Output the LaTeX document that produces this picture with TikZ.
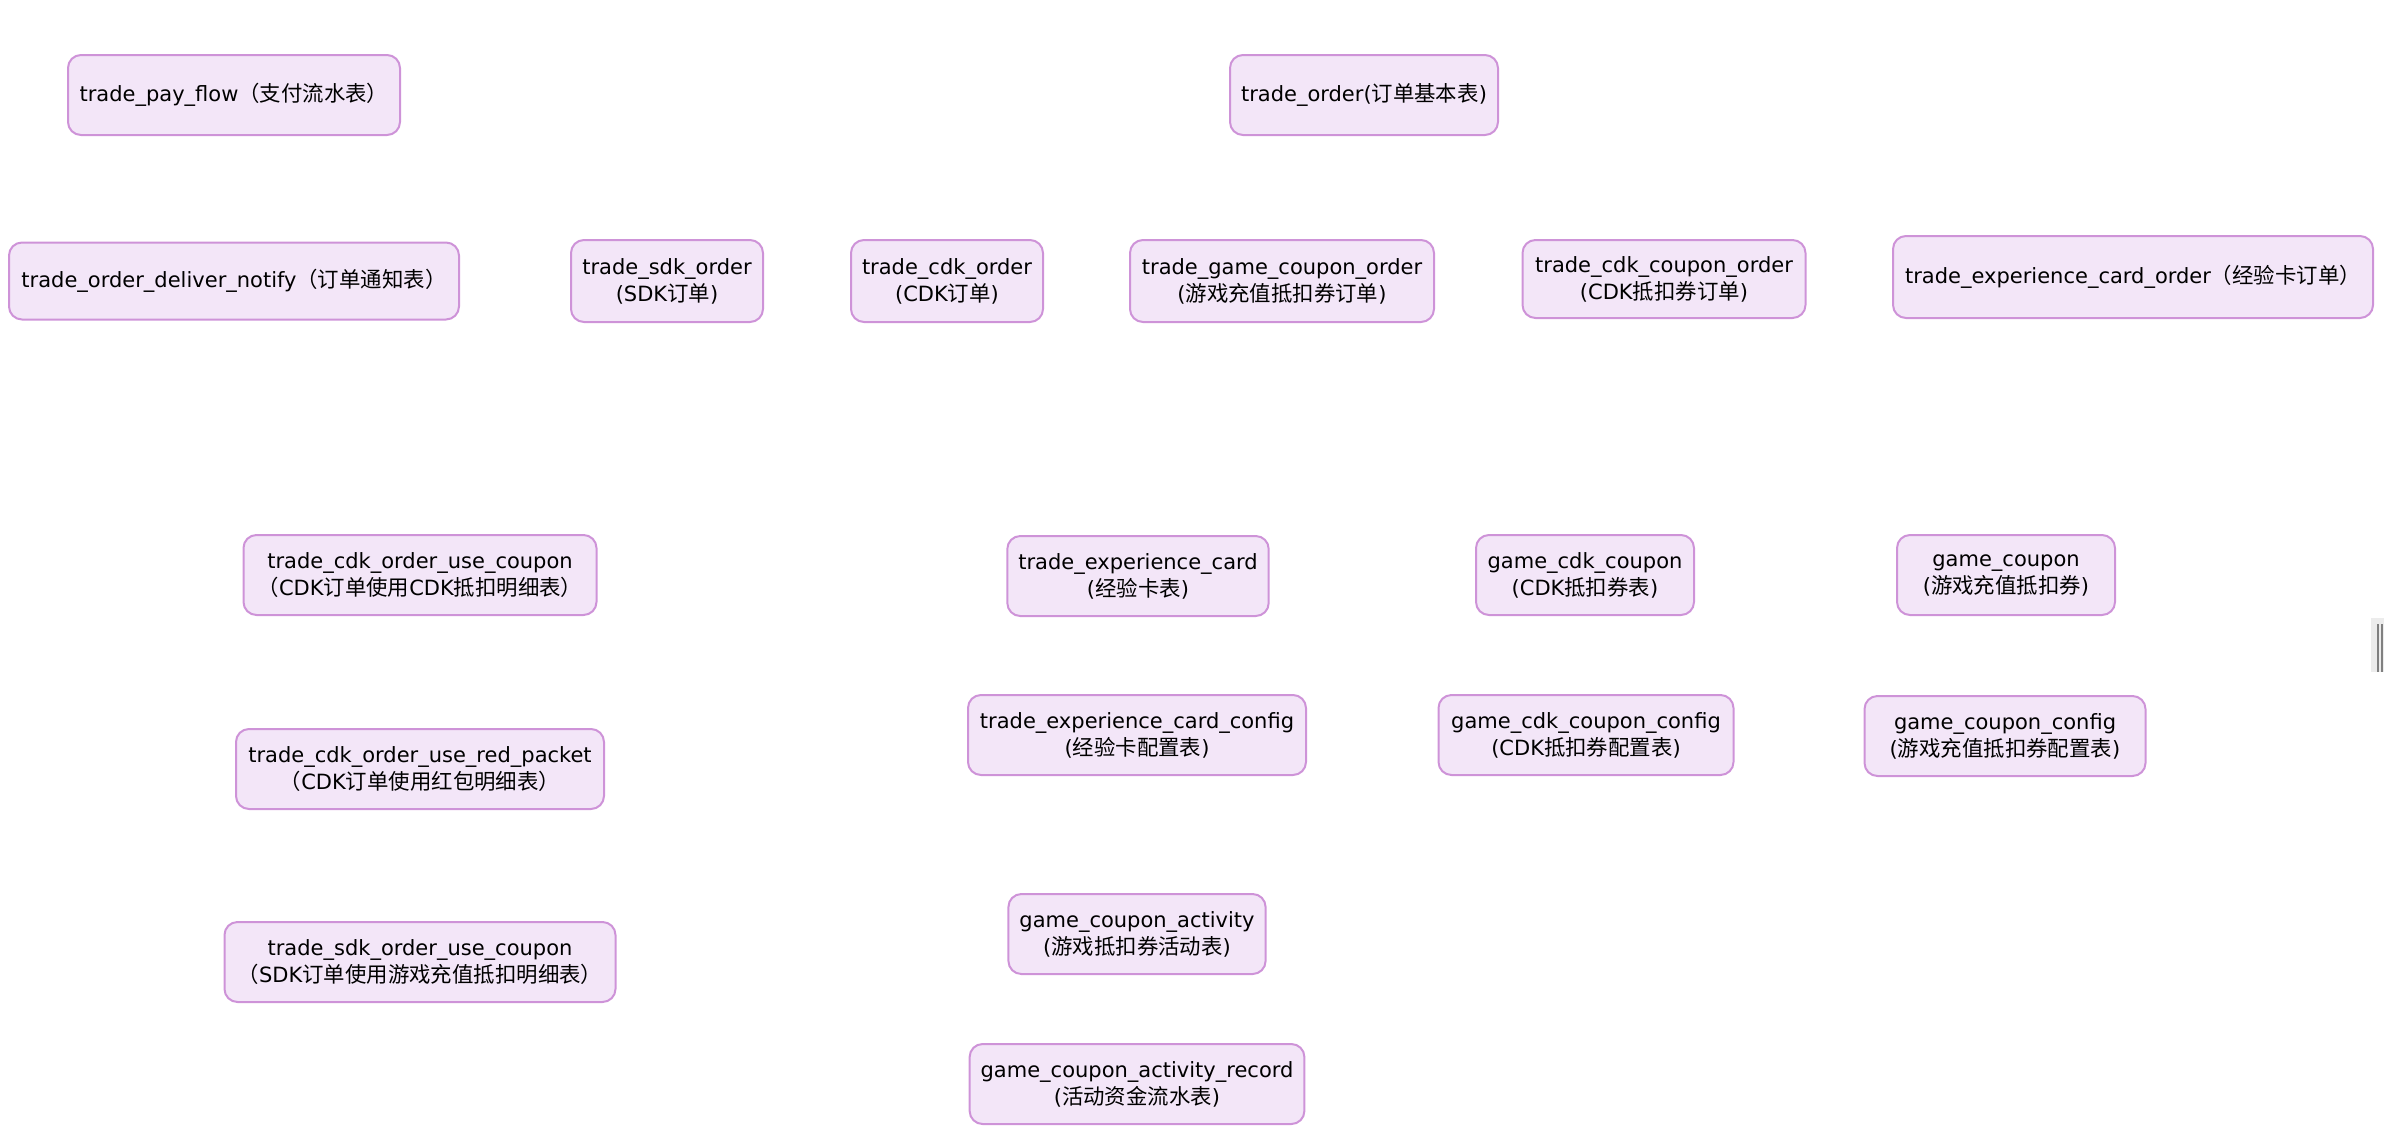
\documentclass[tikz,border=0pt]{standalone}
\usepackage{fontspec}
\setmainfont{DejaVu Sans}
\newfontfamily\cjk[Scale=1.02]{Noto Sans CJK SC}
\definecolor{tblfill}{HTML}{F3E6F8}
\definecolor{tbldraw}{HTML}{CE93D8}

\begin{document}
\begin{tikzpicture}[x=1pt,y=-1pt,
  tbl/.style={draw=tbldraw,fill=tblfill,line width=2pt,rounded corners=13pt,
    minimum height=80pt,inner xsep=11pt,align=center,
    font=\fontsize{21}{27}\selectfont}]
\useasboundingbox (0,0) rectangle (2384,1138);

% top row
\node [tbl,minimum width=332pt] (payflow) at (234,95) {trade\_pay\_flow{\cjk （支付流水表）}};
\node [tbl,minimum width=268pt] (order) at (1364,95) {trade\_order({\cjk 订单基本表})};

% order tables
\node [tbl,minimum width=450pt,minimum height=77pt] (notify) at (234,281) {trade\_order\_deliver\_notify{\cjk （订单通知表）}};
\node [tbl,minimum width=192pt,minimum height=82pt] (sdkorder) at (667,281) {trade\_sdk\_order\\(SDK{\cjk 订单})};
\node [tbl,minimum width=192pt,minimum height=82pt] (cdkorder) at (947,281) {trade\_cdk\_order\\(CDK{\cjk 订单})};
\node [tbl,minimum width=304pt,minimum height=82pt] (gcorder) at (1282,281) {trade\_game\_coupon\_order\\({\cjk 游戏充值抵扣券订单})};
\node [tbl,minimum width=283pt,minimum height=78pt] (cdkcorder) at (1664,279) {trade\_cdk\_coupon\_order\\(CDK{\cjk 抵扣券订单})};
\node [tbl,minimum width=480pt,minimum height=82pt] (expcorder) at (2133,277) {trade\_experience\_card\_order{\cjk （经验卡订单）}};

% detail tables
\node [tbl,minimum width=353pt] (cdkusecoupon) at (420,575) {trade\_cdk\_order\_use\_coupon\\{\cjk （}CDK{\cjk 订单使用}CDK{\cjk 抵扣明细表）}};
\node [tbl,minimum width=368pt] (cdkuseredpk) at (420,769) {trade\_cdk\_order\_use\_red\_packet\\{\cjk （}CDK{\cjk 订单使用红包明细表）}};
\node [tbl,minimum width=391pt] (sdkusecoupon) at (420,962) {trade\_sdk\_order\_use\_coupon\\{\cjk （}SDK{\cjk 订单使用游戏充值抵扣明细表）}};

% card and coupon tables
\node [tbl,minimum width=260pt] (expcard) at (1138,576) {trade\_experience\_card\\({\cjk 经验卡表})};
\node [tbl,minimum width=218pt] (cdkcoupon) at (1585,575) {game\_cdk\_coupon\\(CDK{\cjk 抵扣券表})};
\node [tbl,minimum width=218pt] (gcoupon) at (2006,575) {game\_coupon\\({\cjk 游戏充值抵扣券})};
\node [tbl,minimum width=338pt] (expconfig) at (1137,735) {trade\_experience\_card\_config\\({\cjk 经验卡配置表})};
\node [tbl,minimum width=295pt] (cdkconfig) at (1586,735) {game\_cdk\_coupon\_config\\(CDK{\cjk 抵扣券配置表})};
\node [tbl,minimum width=281pt] (gconfig) at (2005,736) {game\_coupon\_config\\({\cjk 游戏充值抵扣券配置表})};
\node [tbl,minimum width=252pt] (activity) at (1137,934) {game\_coupon\_activity\\({\cjk 游戏抵扣券活动表})};
\node [tbl,minimum width=334pt] (record) at (1137,1084) {game\_coupon\_activity\_record\\({\cjk 活动资金流水表})};

% handle at the right edge
\fill [gray!15] (2371,618) rectangle (2384,672);
\draw [gray,line width=2pt] (2377.5,624)--(2377.5,672);
\draw [gray,line width=2pt] (2381.5,624)--(2381.5,672);

\end{tikzpicture}
\end{document}
